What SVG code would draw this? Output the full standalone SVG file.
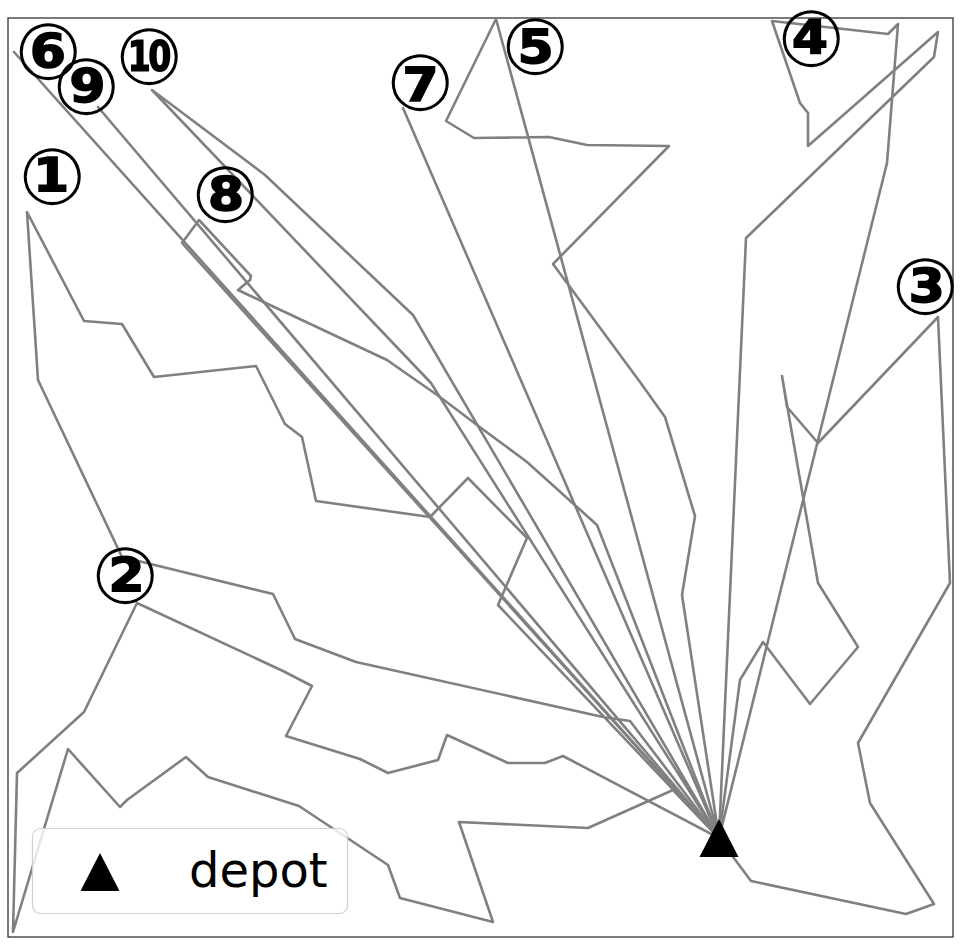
<svg xmlns="http://www.w3.org/2000/svg" width="969" height="947" viewBox="0 0 969 947">
<style>
.route{fill:none;stroke:#808080;stroke-width:2.6;stroke-linejoin:round;stroke-linecap:square}
.lbl{font-family:"DejaVu Sans",sans-serif;font-weight:bold;font-size:78px;fill:#000;text-anchor:middle;dominant-baseline:central}
.leg{font-family:"DejaVu Sans",sans-serif;font-size:48px;fill:#000}
</style>
<defs>
<path id="tri" d="M0,-19 L19.5,19 L-19.5,19 Z" fill="#000"/>
</defs>
<rect x="0" y="0" width="969" height="947" fill="#fff"/>
<rect x="8" y="18" width="945" height="919" fill="#fff" stroke="#333" stroke-width="1.3"/>
<g id="connectors">
<polyline id="route1" class="route" points="719,838 498,605 527,538 468,478 430,517 316,501 302,437 285,424 256,366 154,377 122,324 84,321 27,212 38,380 122,557 273,594 295,639 356,662 603,717 630,721 719,838"/>
<polyline id="route2" class="route" points="719,838 563,756 545,763 508,763 447,735 438,760 388,773 360,759 286,736 312,686 283,671 137,603 84,712 17,773 13,932 68,749 120,807 127,800 186,757 208,777 299,806 388,865 400,898 493,922 459,822 588,828 673,790 719,838"/>
<polyline id="route3" class="route" points="719,838 751,881 906,914 934,904 870,803 858,743 950,583 938,317 818,443 787,407 782,376 818,583 858,647 810,704 763,642 740,680 719,838"/>
<polyline id="route4" class="route" points="719,838 887,163 898,24 888,34 772,21 800,103 808,113 808,146 938,32 934,57 746,238 719,838"/>
<polyline id="route5" class="route" points="719,838 496,19 446,121 474,138 549,137 587,145 669,146 553,264 640,382 665,417 695,516 682,595 719,838"/>
<polyline id="route6" class="route" points="719,838 14,52 719,838"/>
<polyline id="route7" class="route" points="719,838 403,108 719,838"/>
<polyline id="route8" class="route" points="719,838 182,243 199,220 251,276 250,280 238,290 387,360 440,397 477,425 527,462 597,525 719,838"/>
<polyline id="route9" class="route" points="719,838 98,107 719,838"/>
<polyline id="route10" class="route" points="719,838 413,315 265,175 152,90 431,383 719,838"/>
</g>
<g id="depot"><use href="#tri" x="719" y="838"/></g>
<g id="label1"><text class="lbl" x="52" y="177">①</text></g>
<g id="label2"><text class="lbl" x="125" y="576">②</text></g>
<g id="label3"><text class="lbl" x="925" y="287">③</text></g>
<g id="label4"><text class="lbl" x="811" y="39">④</text></g>
<g id="label5"><text class="lbl" x="535" y="47">⑤</text></g>
<g id="label6"><text class="lbl" x="48" y="52">⑥</text></g>
<g id="label7"><text class="lbl" x="420" y="83">⑦</text></g>
<g id="label8"><text class="lbl" x="225" y="195">⑧</text></g>
<g id="label9"><text class="lbl" x="86" y="87">⑨</text></g>
<g id="label10"><text class="lbl" x="149" y="57">⑩</text></g>
<g id="legend">
<rect x="32.5" y="828.5" width="315" height="85" rx="8" fill="#fff" fill-opacity="0.8" stroke="#d0d0d0" stroke-width="1.2"/>
<use href="#tri" x="100" y="872"/>
<text class="leg" x="189" y="887">depot</text>
</g>
</svg>
